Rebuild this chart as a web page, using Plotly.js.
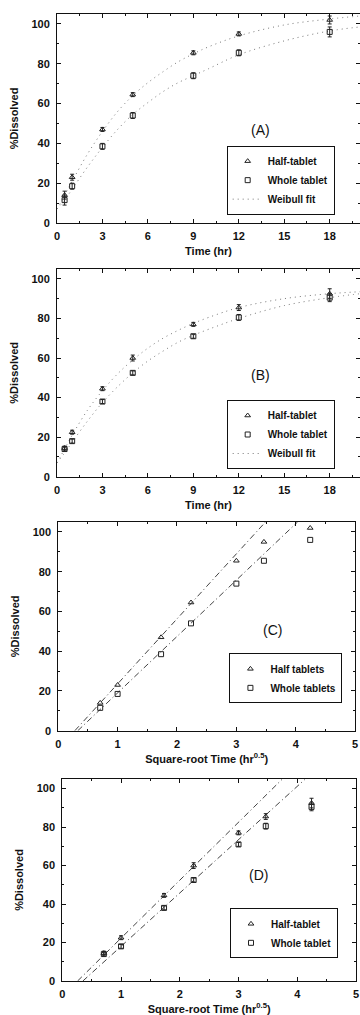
<!DOCTYPE html>
<html>
<head>
<meta charset="utf-8">
<script src="https://cdn.plot.ly/plotly-3.0.1.min.js"></script>
<style>
  html, body { margin: 0; padding: 0; background: #fff; }
  #chart { width: 360px; height: 1015px; }
</style>
</head>
<body>
<div id="chart"></div>
<script>
// ---- data ----
const timeHr = [0.5, 1, 3, 5, 9, 12, 18];
const sqrtTimeHr = [0.707, 1, 1.732, 2.236, 3, 3.464, 4.243];

// Dataset shown in panels A and C
const halfA = [14, 23, 47, 64.5, 85.5, 95, 102];
const wholeA = [11.5, 18.5, 38.5, 54, 74, 85.5, 96];
const halfErrA = [2, 1.5, 1, 1, 1, 1, 2];
const wholeErrA = [2.5, 1.5, 1.5, 1.5, 1.5, 1.5, 2.5];

// Dataset shown in panels B and D
const halfB = [14.5, 22.5, 44.5, 60, 77, 85.5, 92.5];
const wholeB = [14, 18, 38, 52.5, 71, 80.5, 90.5];
const halfErrB = [1, 1, 1, 1.5, 1, 1.5, 2.5];
const wholeErrB = [1, 1, 1, 1, 1, 1.5, 2];

// Weibull fit curves
const fitTime = [0, 0.5, 1, 2, 3, 4, 5, 6, 7, 8, 9, 10, 12, 15, 18, 20];
const halfFitA = [7, 14, 21, 34.5, 46, 56, 64, 70.5, 76, 81, 85, 88.5, 94, 99.5, 102.5, 104];
const wholeFitA = [7, 11.5, 17, 28, 38, 47, 54.5, 60.5, 66, 70.5, 74, 77.5, 84.5, 91.5, 96.5, 98.5];
const halfFitB = [7, 14, 21, 33.5, 43.5, 52, 59, 65, 70, 74, 77.5, 80.5, 85.5, 90, 92.5, 93.5];
const wholeFitB = [7, 12, 17.5, 28, 37.5, 45.5, 52.5, 58.5, 63.5, 68, 71.5, 74.5, 80, 86.5, 90.5, 92.5];

// Square-root-time regression lines (end points)
const halfLineCx = [0.28, 3.49], halfLineCy = [0, 105];
const wholeLineCx = [0.33, 4.03], wholeLineCy = [0, 105];
const halfLineDx = [0.26, 3.74], halfLineDy = [0, 104.8];
const wholeLineDx = [0.35, 4.13], wholeLineDy = [0, 104.8];

const timeTicks = [0, 3, 6, 9, 12, 15, 18];
const sqrtTicks = [0, 1, 2, 3, 4, 5];
const pctTicks = [0, 20, 40, 60, 80, 100];

// ---- styling ----
const FONT = 'Liberation Sans, Arial, sans-serif';
const INK = '#111';
const MARK = '#222';
const FITC = '#777';

function pts(x, y, err, sym, name, xa, ya, leg, show) {
  const t = {
    type: 'scatter', mode: 'markers', x: x, y: y, name: name,
    xaxis: xa, yaxis: ya, legend: leg, showlegend: show,
    marker: { symbol: sym, size: 5, color: MARK, line: { color: MARK, width: 1 } }
  };
  if (err) t.error_y = { type: 'data', array: err, visible: true, color: MARK, thickness: 1, width: 2 };
  return t;
}
function fit(x, y, name, xa, ya, leg, show, dash, color) {
  return {
    type: 'scatter', mode: 'lines', x: x, y: y, name: name,
    xaxis: xa, yaxis: ya, legend: leg, showlegend: show,
    line: { color: color, width: 1, dash: dash, shape: 'spline' }
  };
}

const DOT = '1px,4px';
const DASHDOT = '6px,3px,1px,3px';

const data = [
  // Panel A
  fit(fitTime, halfFitA, 'Weibull fit', 'x', 'y', 'legend', false, DOT, FITC),
  fit(fitTime, wholeFitA, 'Weibull fit', 'x', 'y', 'legend', false, DOT, FITC),
  pts(timeHr, halfA, halfErrA, 'triangle-up-open', 'Half-tablet', 'x', 'y', 'legend', true),
  pts(timeHr, wholeA, wholeErrA, 'square-open', 'Whole tablet', 'x', 'y', 'legend', true),
  fit([null], [null], 'Weibull fit', 'x', 'y', 'legend', true, DOT, FITC),
  // Panel B
  fit(fitTime, halfFitB, 'Weibull fit', 'x2', 'y2', 'legend2', false, DOT, FITC),
  fit(fitTime, wholeFitB, 'Weibull fit', 'x2', 'y2', 'legend2', false, DOT, FITC),
  pts(timeHr, halfB, halfErrB, 'triangle-up-open', 'Half-tablet', 'x2', 'y2', 'legend2', true),
  pts(timeHr, wholeB, wholeErrB, 'square-open', 'Whole tablet', 'x2', 'y2', 'legend2', true),
  fit([null], [null], 'Weibull fit', 'x2', 'y2', 'legend2', true, DOT, FITC),
  // Panel C
  fit(halfLineCx, halfLineCy, 'half line', 'x3', 'y3', 'legend3', false, DASHDOT, '#444'),
  fit(wholeLineCx, wholeLineCy, 'whole line', 'x3', 'y3', 'legend3', false, DASHDOT, '#444'),
  pts(sqrtTimeHr, halfA, null, 'triangle-up-open', 'Half tablets', 'x3', 'y3', 'legend3', true),
  pts(sqrtTimeHr, wholeA, null, 'square-open', 'Whole tablets', 'x3', 'y3', 'legend3', true),
  // Panel D
  fit(halfLineDx, halfLineDy, 'half line', 'x4', 'y4', 'legend4', false, DASHDOT, '#444'),
  fit(wholeLineDx, wholeLineDy, 'whole line', 'x4', 'y4', 'legend4', false, DASHDOT, '#444'),
  pts(sqrtTimeHr, halfB, halfErrB, 'triangle-up-open', 'Half-tablet', 'x4', 'y4', 'legend4', true),
  pts(sqrtTimeHr, wholeB, wholeErrB, 'square-open', 'Whole tablet', 'x4', 'y4', 'legend4', true)
];

const tickFont = { family: FONT, size: 11, color: INK, weight: 'bold' };
const titleFont = { family: FONT, size: 11, color: INK, weight: 'bold' };

function xAxis(domain, anchor, range, ticks, dtickMinor, title) {
  return {
    domain: domain, anchor: anchor, range: range, tickvals: ticks,
    showline: true, linecolor: INK, linewidth: 1, mirror: 'ticks',
    ticks: 'inside', ticklen: 4, tickcolor: INK, showgrid: false, zeroline: false,
    minor: { ticks: 'inside', ticklen: 2, dtick: dtickMinor, tickcolor: INK, showgrid: false },
    tickfont: tickFont, ticklabelstandoff: 3,
    title: { text: title, font: titleFont, standoff: 6 }
  };
}
function yAxis(domain, anchor) {
  return {
    domain: domain, anchor: anchor, range: [0, 105], tickvals: pctTicks,
    showline: true, linecolor: INK, linewidth: 1, mirror: 'ticks',
    ticks: 'inside', ticklen: 4, tickcolor: INK, showgrid: false, zeroline: false,
    minor: { ticks: 'inside', ticklen: 2, dtick: 10, tickcolor: INK, showgrid: false },
    tickfont: tickFont, ticklabelstandoff: 4,
    title: { text: '%Dissolved', font: titleFont, standoff: 10 }
  };
}
function legendAt(x, y) {
  return {
    x: x, y: y, xanchor: 'left', yanchor: 'top',
    bgcolor: '#fff', bordercolor: INK, borderwidth: 1,
    font: { family: FONT, size: 10, color: INK, weight: 'bold' },
    tracegroupgap: 0, itemwidth: 30
  };
}
function label(text, x, y) {
  return { text: text, x: x, y: y, xref: 'paper', yref: 'paper', showarrow: false,
           font: { family: FONT, size: 14, color: INK } };
}

const layout = {
  width: 360, height: 1015,
  margin: { l: 57, r: 0, t: 0, b: 0 },
  paper_bgcolor: '#fff', plot_bgcolor: '#fff',
  font: { family: FONT, color: INK },
  xaxis: xAxis([0, 1], 'y', [0, 20], timeTicks, 1.5, 'Time (hr)'),
  yaxis: yAxis([0.7803, 0.9862], 'x'),
  xaxis2: xAxis([0, 1], 'y2', [0, 20], timeTicks, 1.5, 'Time (hr)'),
  yaxis2: yAxis([0.5303, 0.7350], 'x2'),
  xaxis3: xAxis([0.004, 0.984], 'y3', [0, 5], sqrtTicks, 0.5, 'Square-root Time (hr<sup>0.5</sup>)'),
  yaxis3: yAxis([0.2801, 0.4857], 'x3'),
  xaxis4: xAxis([0.0175, 0.9868], 'y4', [0, 5], sqrtTicks, 0.5, 'Square-root Time (hr<sup>0.5</sup>)'),
  yaxis4: yAxis([0.0335, 0.2325], 'x4'),
  legend: legendAt(0.56, 0.8565),
  legend2: legendAt(0.56, 0.6059),
  legend3: legendAt(0.569, 0.3563),
  legend4: legendAt(0.571, 0.1051),
  annotations: [
    label('(A)', 0.7086, 0.8818),
    label('(B)', 0.7086, 0.6305),
    label('(C)', 0.749, 0.3793),
    label('(D)', 0.703, 0.128)
  ],
  showlegend: true
};

Plotly.newPlot('chart', data, layout, { staticPlot: true, displayModeBar: false });
</script>
</body>
</html>
